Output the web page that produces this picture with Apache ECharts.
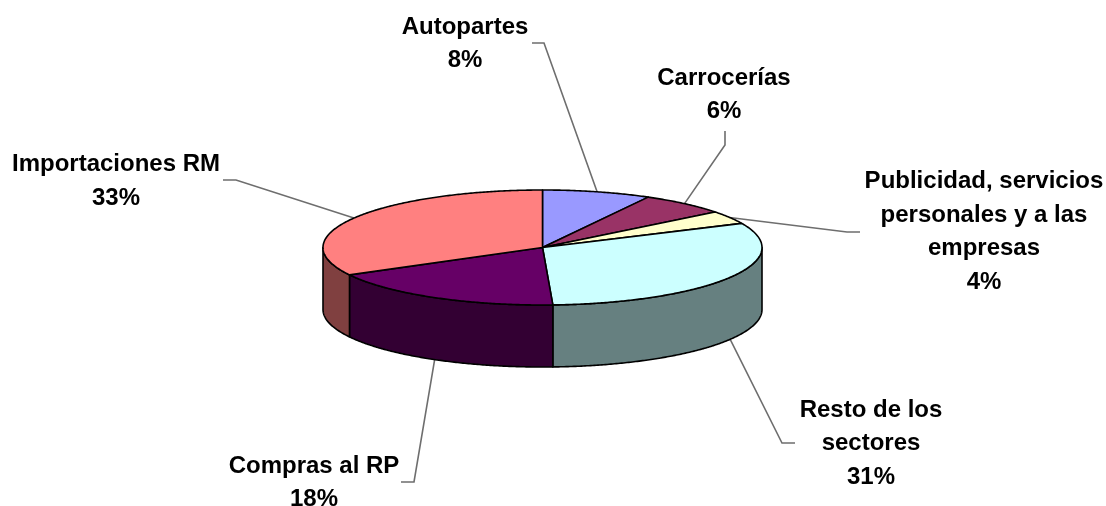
<!DOCTYPE html>
<html>
<head>
<meta charset="utf-8">
<style>html,body{margin:0;padding:0;background:#fff}#c{width:1106px;height:506px}</style>
<script src="https://cdn.jsdelivr.net/npm/echarts@6/dist/echarts.min.js"></script>
</head>
<body>
<div id="c"></div>
<script>
// Data (clockwise from the top of the pie)
const categories = ['Autopartes', 'Carrocerías', 'Publicidad, servicios\npersonales y a las\nempresas', 'Resto de los\nsectores', 'Compras al RP', 'Importaciones RM'];
const shares = [8, 6.4, 3.7, 31.15, 17.85, 32.9];

// Styling
const topColors = ['#9999ff', '#993366', '#ffffcc', '#ccffff', '#660066', '#ff8080'];
const sideColors = ['#666680', '#4d1a33', '#808066', '#668080', '#330033', '#804040'];

// Layout
const pie = { cx: 542.5, cy: 247.5, rx: 219.5, ry: 57.5, depth: 62 };
const labelCenters = [[465, 44], [724, 95], [984, 232], [871, 443.5], [314, 483], [116, 181.5]];
const leaderElbows = [[[544, 43], [532, 43]], [[725, 145], [725, 131]], [[847, 232], [860, 232]], [[782, 443], [795, 443]], [[414, 482], [401, 482]], [[236, 180], [223, 180]]];

const total = shares.reduce((a, b) => a + b, 0);
const rad = d => d * Math.PI / 180;
const pt = (deg, dy) => [pie.cx + pie.rx * Math.sin(rad(deg)), pie.cy - pie.ry * Math.cos(rad(deg)) + (dy || 0)];
const arc = (a, b, dy) => {
  const out = [], n = Math.max(2, Math.ceil(Math.abs(b - a) * 2));
  for (let i = 0; i <= n; i++) out.push(pt(a + (b - a) * i / n, dy));
  return out;
};

function renderItem(params, api) {
  const i = params.dataIndex;
  let before = 0;
  for (let k = 0; k < i; k++) before += shares[k];
  const a0 = before / total * 360;
  const a1 = a0 + api.value(1) / total * 360;
  const mid = (a0 + a1) / 2;
  const children = [];
  const edge = { stroke: '#000', lineWidth: 1.6, lineJoin: 'round' };

  const s0 = Math.max(a0, 90), s1 = Math.min(a1, 270);
  if (s1 > s0) {
    children.push({
      type: 'polygon', z2: 1,
      shape: { points: arc(s0, s1, 0).concat(arc(s1, s0, pie.depth)) },
      style: Object.assign({ fill: sideColors[i] }, edge)
    });
  }
  children.push({
    type: 'polygon', z2: 2,
    shape: { points: [[pie.cx, pie.cy]].concat(arc(a0, a1, 0)) },
    style: Object.assign({ fill: topColors[i] }, edge)
  });

  const onFront = mid > 90 && mid < 270;
  const start = pt(mid, onFront ? pie.depth : 0);
  children.push({
    type: 'polyline', z2: 0,
    shape: { points: [start].concat(leaderElbows[i]) },
    style: { fill: null, stroke: '#6e6e6e', lineWidth: 1.6 }
  });
  children.push({
    type: 'text', z2: 3,
    style: {
      text: api.value(0) ? categories[i] + '\n' + Math.round(api.value(1)) + '%' : '',
      x: labelCenters[i][0], y: labelCenters[i][1],
      align: 'center', verticalAlign: 'middle',
      font: 'bold 24px "Liberation Sans", Arial, sans-serif',
      lineHeight: 33.6, fill: '#000'
    }
  });
  return { type: 'group', children };
}

const chart = echarts.init(document.getElementById('c'), null, { renderer: 'canvas' });
chart.setOption({
  animation: false,
  backgroundColor: '#ffffff',
  series: [{
    type: 'custom',
    coordinateSystem: 'none',
    silent: true,
    renderItem,
    data: categories.map((c, i) => [i + 1, shares[i]])
  }]
});
</script>
</body>
</html>
